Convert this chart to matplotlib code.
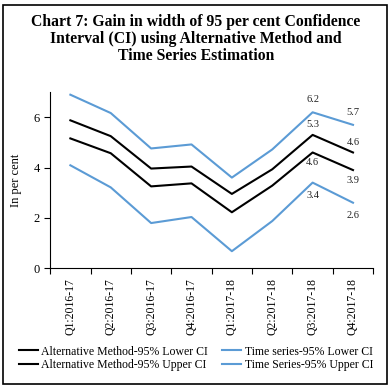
import matplotlib.pyplot as plt
from matplotlib.patches import Rectangle

quarters = ['Q1:2016-17', 'Q2:2016-17', 'Q3:2016-17', 'Q4:2016-17',
            'Q1:2017-18', 'Q2:2017-18', 'Q3:2017-18', 'Q4:2017-18']
alt_lower = [5.16, 4.57, 3.25, 3.37, 2.22, 3.28, 4.6, 3.9]
alt_upper = [5.88, 5.25, 3.96, 4.04, 2.95, 3.93, 5.3, 4.6]
ts_lower = [4.09, 3.21, 1.79, 2.03, 0.67, 1.87, 3.4, 2.6]
ts_upper = [6.9, 6.17, 4.76, 4.92, 3.6, 4.72, 6.2, 5.7]

plt.rcParams['font.family'] = ['Liberation Serif', 'DejaVu Serif']

fig = plt.figure(figsize=(3.92, 3.89), dpi=100)
ax = fig.add_axes([0.128, 0.311, 0.824, 0.452])

blue = '#5b9bd5'
x = list(range(len(quarters)))
ax.plot(x, alt_lower, color='black', lw=1.5, label='Alternative Method-95% Lower CI')
ax.plot(x, alt_upper, color='black', lw=1.5, label='Alternative Method-95% Upper CI')
ax.plot(x, ts_lower, color=blue, lw=1.5, label='Time series-95% Lower CI')
ax.plot(x, ts_upper, color=blue, lw=1.5, label='Time Series-95% Upper CI')

# data labels on last two quarters
lab = dict(textcoords='offset points', ha='center', fontsize=7.5, color='#222222')
for i in [6, 7]:
    ax.annotate(f'{ts_upper[i]:.1f}', (i, ts_upper[i]), xytext=(0, 6), va='bottom', **lab)
    ax.annotate(f'{alt_upper[i]:.1f}', (i, alt_upper[i]), xytext=(0, 4), va='bottom', **lab)
    ax.annotate(f'{alt_lower[i]:.1f}', (i, alt_lower[i]), xytext=(0, -4), va='top', **lab)
    ax.annotate(f'{ts_lower[i]:.1f}', (i, ts_lower[i]), xytext=(0, -6), va='top', **lab)

ax.set_xlim(-0.5, len(quarters) - 0.5)
ax.set_ylim(0, 7)
ax.set_yticks([0, 2, 4, 6])
ax.set_xticks([i - 0.5 for i in range(len(quarters) + 1)])
ax.set_xticklabels([])
ax.set_xticks(x, minor=True)
ax.set_xticklabels(quarters, minor=True, rotation=90, fontsize=8.5)
ax.tick_params(axis='x', which='minor', length=0, pad=7)
ax.tick_params(axis='x', which='major', length=4, direction='out')
ax.tick_params(axis='y', labelsize=9, length=4)
ax.spines['top'].set_visible(False)
ax.spines['right'].set_visible(False)
ax.set_ylabel('In per cent', fontsize=9, labelpad=8)

fig.text(0.5, 0.965, 'Chart 7: Gain in width of 95 per cent Confidence\n'
         'Interval (CI) using Alternative Method and\nTime Series Estimation',
         ha='center', va='top', fontsize=11.3, fontweight='bold', linespacing=1.08)

fig.legend(loc='lower center', bbox_to_anchor=(0.5, 0.018), ncol=2, frameon=False,
           fontsize=8.5, handlelength=1.6, handletextpad=0.3, columnspacing=1.2,
           labelspacing=0.15)

fig.add_artist(Rectangle((0.008, 0.013), 0.98, 0.975, transform=fig.transFigure,
                         fill=False, edgecolor='black', lw=1.2))

fig.savefig('out.png', dpi=100)
